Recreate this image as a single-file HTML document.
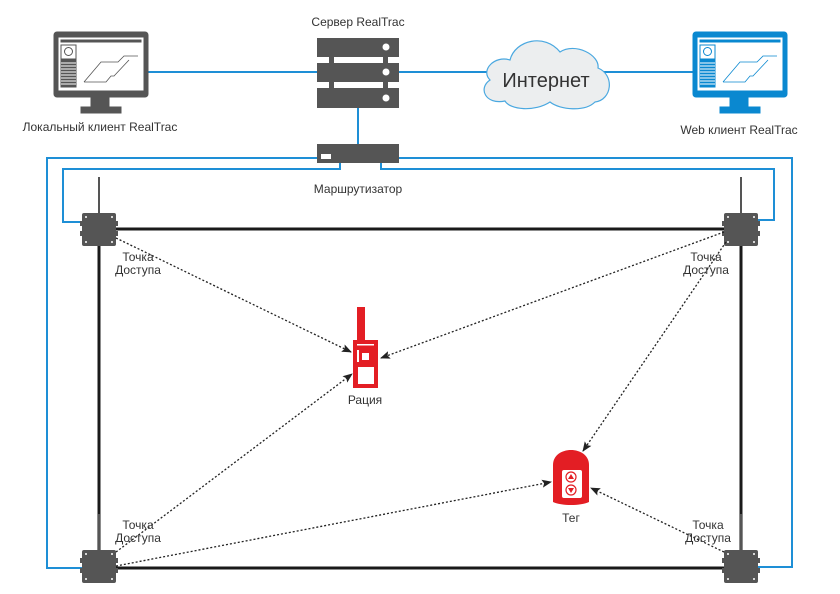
<!DOCTYPE html>
<html><head><meta charset="utf-8"><style>
html,body{margin:0;padding:0;background:#fff}
svg{display:block}
text{font-family:"Liberation Sans",sans-serif;fill:#333}
</style></head><body>
<svg width="840" height="594" viewBox="0 0 840 594" xmlns="http://www.w3.org/2000/svg">
<defs>
<marker id="ar" markerWidth="10" markerHeight="8" refX="9" refY="4" orient="auto" markerUnits="userSpaceOnUse">
<path d="M0,0 L10,4 L0,8 L2,4 Z" fill="#222"/></marker>
<g id="mon">
<rect x="0" y="0" width="94" height="65" rx="3"/>
<rect x="37" y="65" width="18" height="11"/>
<rect x="27" y="75" width="40" height="6"/>
<rect x="4" y="5" width="86" height="54" fill="#fff"/>
<rect x="7" y="8" width="80" height="2"/>
<rect x="7" y="13" width="15" height="14" fill="#fff" stroke-width="1"/>
<circle cx="14.5" cy="19.5" r="4" fill="none" stroke-width="1"/>
<rect x="7" y="28" width="15" height="27"/>
<g stroke="#fff" stroke-width="1"><line x1="7" y1="31" x2="22" y2="31"/><line x1="7" y1="34" x2="22" y2="34"/><line x1="7" y1="37" x2="22" y2="37"/><line x1="7" y1="40" x2="22" y2="40"/><line x1="7" y1="43" x2="22" y2="43"/><line x1="7" y1="46" x2="22" y2="46"/><line x1="7" y1="49" x2="22" y2="49"/><line x1="7" y1="52" x2="22" y2="52"/></g>
<path d="M30,50 L47,30 L64,30 L70,24 L84,24 M30,50 L52,50 L57,44 L60,44 L75,28" fill="none" stroke-width="0.8"/>
</g>
<g id="ap">
<rect x="16" y="-36" width="2" height="36" fill="#555"/>
<rect x="0" y="0" width="34" height="33" rx="2" fill="#555"/>
<rect x="-2" y="8" width="3" height="5" fill="#555"/><rect x="-2" y="18" width="3" height="5" fill="#555"/>
<rect x="33" y="8" width="3" height="5" fill="#555"/><rect x="33" y="18" width="3" height="5" fill="#555"/>
<circle cx="4" cy="4" r="1" fill="#fff"/><circle cx="30" cy="4" r="1" fill="#fff"/><circle cx="4" cy="29" r="1" fill="#fff"/><circle cx="30" cy="29" r="1" fill="#fff"/>
</g>
</defs>

<!-- blue lines -->
<g stroke="#1e8fd6" stroke-width="2" fill="none">
<line x1="148" y1="72" x2="693" y2="72"/>
<line x1="358" y1="108" x2="358" y2="145"/>
<polyline points="318,158 47,158 47,568 82,568"/>
<polyline points="398,158 792,158 792,567 757,567"/>
<polyline points="340,163 340,169 63,169 63,222 82,222"/>
<polyline points="381,163 381,169 774,169 774,220 757,220"/>
</g>

<!-- black frame -->
<g stroke="#1a1a1a" stroke-width="3" fill="none">
<line x1="116" y1="229" x2="724" y2="229"/>
<line x1="116" y1="568" x2="724" y2="568"/>
<line x1="99" y1="245" x2="99" y2="550"/>
<line x1="741" y1="245" x2="741" y2="550"/>
</g>

<!-- monitors -->
<use href="#mon" x="54" y="32" fill="#555" stroke="#555"/>
<use href="#mon" x="693" y="32" fill="#0a88d0" stroke="#0a88d0"/>

<!-- server -->
<g fill="#555">
<rect x="317" y="38" width="82" height="19"/><rect x="317" y="63" width="82" height="19"/><rect x="317" y="88" width="82" height="20"/>
<rect x="329" y="55" width="5" height="36"/><rect x="383" y="55" width="5" height="36"/>
<rect x="317" y="144" width="82" height="19"/>
</g>
<g fill="#fff"><circle cx="386" cy="47" r="3.5"/><circle cx="386" cy="72" r="3.5"/><circle cx="386" cy="98" r="3.5"/>
<rect x="321" y="154" width="10" height="5"/></g>

<!-- cloud -->
<path d="M490,80 C480,70 495,55 510,60 C515,40 545,33 560,52 C575,42 600,55 598,68 C615,75 612,100 595,102 C585,112 560,110 550,102 C535,112 510,110 505,101 C485,105 478,88 490,80 Z" fill="#eceeef" stroke="#4aa8e0" stroke-width="1.2"/>
<text x="546" y="87" font-size="20" text-anchor="middle" fill="#222">Интернет</text>

<!-- APs -->
<use href="#ap" x="82" y="213"/>
<use href="#ap" x="724" y="213"/>
<use href="#ap" x="82" y="550"/>
<use href="#ap" x="724" y="550"/>

<!-- dotted arrows -->
<g stroke="#222" stroke-width="1.3" stroke-dasharray="2,2" fill="none" marker-end="url(#ar)">
<line x1="116" y1="238" x2="351" y2="352"/>
<line x1="116" y1="552" x2="352" y2="374"/>
<line x1="724" y1="232" x2="381" y2="358"/>
<line x1="726" y1="242" x2="583" y2="451"/>
<line x1="116" y1="566" x2="551" y2="482"/>
<line x1="724" y1="552" x2="591" y2="488"/>
</g>

<!-- radio -->
<g fill="#e31e24">
<rect x="357" y="307" width="8" height="34"/>
<rect x="353" y="340" width="25" height="48"/>
</g>
<g fill="#fff"><rect x="357" y="344" width="17" height="1.5"/><rect x="357" y="350" width="2" height="12"/><rect x="362" y="353" width="7" height="7"/><rect x="358" y="367" width="16" height="17"/></g>

<!-- tag -->
<path d="M553,465 C553,445 589,445 589,465 L589,502 C580,506 562,506 553,502 Z" fill="#e31e24"/>
<rect x="562" y="470" width="20" height="28" rx="2" fill="#fff"/>
<circle cx="571" cy="477" r="5" fill="none" stroke="#e31e24" stroke-width="1.2"/>
<circle cx="571" cy="490" r="5" fill="none" stroke="#e31e24" stroke-width="1.2"/>
<path d="M568,479 L574,479 L571,474 Z M568,488 L574,488 L571,493 Z" fill="#e31e24"/>

<!-- labels -->
<g font-size="12">
<text x="358" y="26" text-anchor="middle">Сервер RealTrac</text>
<text x="100" y="131" text-anchor="middle">Локальный клиент RealTrac</text>
<text x="739" y="134" text-anchor="middle">Web клиент RealTrac</text>
<text x="358" y="193" text-anchor="middle">Маршрутизатор</text>
<text x="138" y="261" text-anchor="middle">Точка</text><text x="138" y="274" text-anchor="middle">Доступа</text>
<text x="706" y="261" text-anchor="middle">Точка</text><text x="706" y="274" text-anchor="middle">Доступа</text>
<text x="138" y="529" text-anchor="middle">Точка</text><text x="138" y="542" text-anchor="middle">Доступа</text>
<text x="708" y="529" text-anchor="middle">Точка</text><text x="708" y="542" text-anchor="middle">Доступа</text>
<text x="365" y="404" text-anchor="middle">Рация</text>
<text x="571" y="522" text-anchor="middle">Тег</text>
</g>
</svg>
</body></html>
